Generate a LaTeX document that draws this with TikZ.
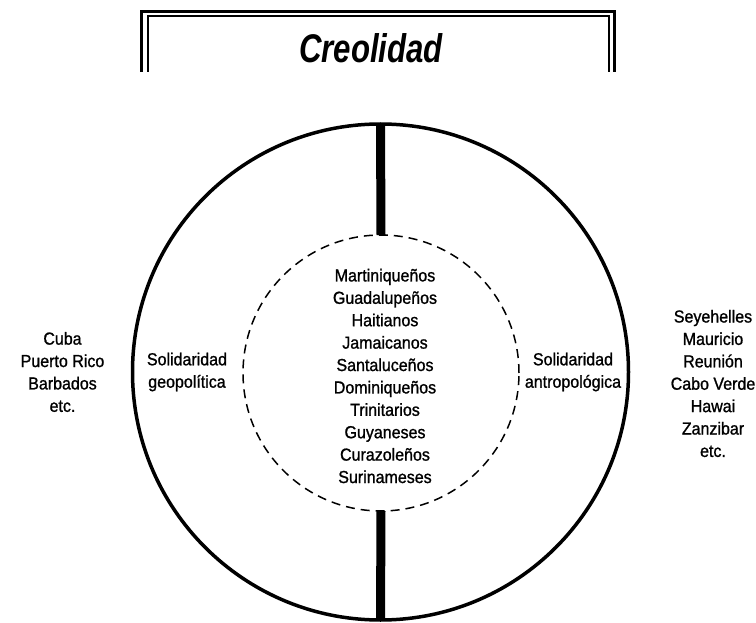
\documentclass[tikz,border=0pt]{standalone}
\usepackage{fontspec}
\setmainfont{Liberation Sans}[FakeBold=1.1,FakeStretch=0.92]
\newfontfamily\titlefont{Liberation Sans}[FakeStretch=0.78]
\begin{document}
\begin{tikzpicture}[x=1pt,y=-1pt,
  lbl/.style={align=center,inner sep=0pt,font=\fontsize{17.4}{22.4}\selectfont},
  ring/.style={circle,draw,inner sep=0pt,outer sep=0pt},
  bar/.style={line width=9pt},
  frameline/.style={line width=2.6pt}]
\useasboundingbox (0,0) rectangle (756,623);
% title frame
\coordinate (fo1) at (141.5,72);
\coordinate (fo2) at (141.5,11.7);
\coordinate (fo3) at (614.3,11.7);
\coordinate (fo4) at (614.3,72);
\coordinate (fi1) at (148,72);
\coordinate (fi2) at (148,16.3);
\coordinate (fi3) at (608.7,16.3);
\coordinate (fi4) at (608.7,72);
\draw[frameline] (fo1) -- (fo2) -- (fo3) -- (fo4);
\draw[line width=2.2pt] (fi1) -- (fi2) -- (fi3) -- (fi4);
\node[inner sep=0pt] (title) at (371,48) {\titlefont\fontsize{40}{44}\selectfont\bfseries\itshape Creolidad};
% circles
\node[ring,line width=3.5pt,minimum size=496pt] (outer) at (380.5,372) {};
\node[ring,line width=1.5pt,dash pattern=on 9pt off 6pt,minimum size=276pt] (inner) at (381,373) {};
\draw[bar] (outer.north) -- (inner.north);
\draw[bar] (inner.south) -- (outer.south);
% texts
\node[lbl] (center) at (385,376) {Martiniqueños\\Guadalupeños\\Haitianos\\Jamaicanos\\Santaluceños\\Dominiqueños\\Trinitarios\\Guyaneses\\Curazoleños\\Surinameses};
\node[lbl] (left) at (62.5,372) {Cuba\\Puerto Rico\\Barbados\\etc.};
\node[lbl] (geo) at (187,372) {Solidaridad\\geopolítica};
\node[lbl] (antro) at (573,372) {Solidaridad\\antropológica};
\node[lbl] (right) at (713,383.5) {Seyehelles\\Mauricio\\Reunión\\Cabo Verde\\Hawai\\Zanzibar\\etc.};
\end{tikzpicture}
\end{document}
